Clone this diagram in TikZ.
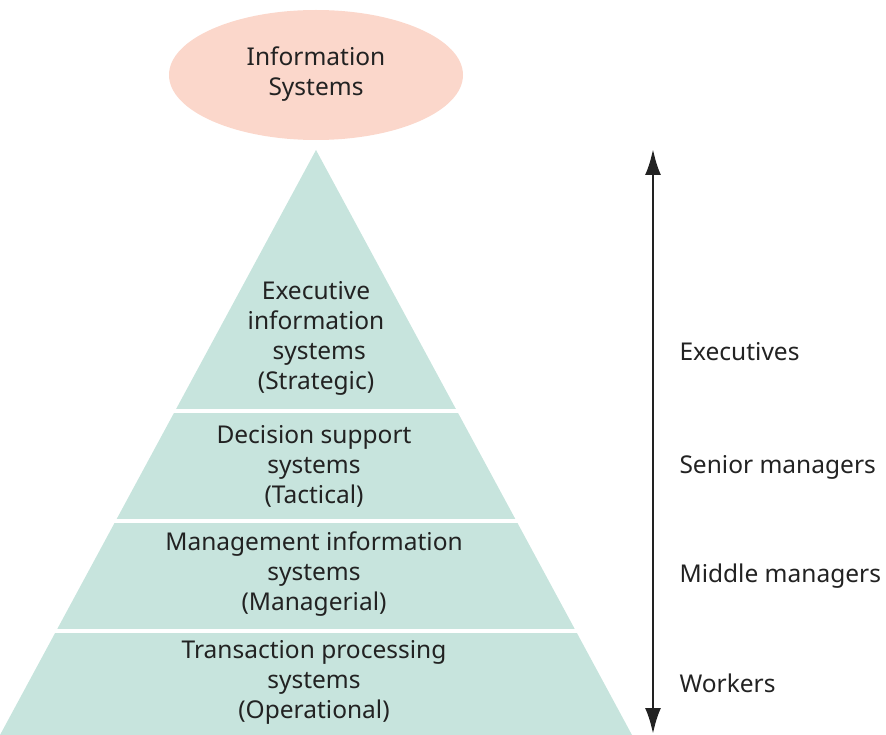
\documentclass[tikz,border=0pt]{standalone}
\usepackage{fontspec}
\setmainfont{Noto Sans}
\usetikzlibrary{shapes.geometric,arrows.meta}
\definecolor{pyr}{HTML}{C7E4DD}
\definecolor{ell}{HTML}{FBD7CB}
\definecolor{ink}{HTML}{222222}
\begin{document}
\begin{tikzpicture}[x=1pt,y=-1pt,
  lbl/.style={font=\fontsize{24.5}{30}\selectfont,text=ink,align=center},
  side/.style={font=\fontsize{24.5}{28}\selectfont,text=ink,anchor=west}]
\useasboundingbox (0,0) rectangle (886,735);
\node[ellipse,fill=ell,minimum width=294,minimum height=130,inner sep=0] (ell) at (316,75) {};
\node[lbl] (title) at (316,74) {\bfseries Information\\\bfseries Systems};
\fill[pyr] (316,150) -- (632,735) -- (0,735) -- cycle;
\foreach \y in {411,521,631}{\draw[white,line width=4] ({316-0.5402*(\y-150)-2},\y) -- ({316+0.5402*(\y-150)+2},\y);}
\node[lbl] (t1) at (316,338) {Executive\\information\\\ systems\\(Strategic)};
\node[lbl] (t2) at (314,466) {Decision support\\systems\\(Tactical)};
\node[lbl] (t3) at (314,574) {Management information\\systems\\(Managerial)};
\node[lbl] (t4) at (314,682) {Transaction processing\\systems\\(Operational)};
\coordinate (atop) at (653,149);
\coordinate (abot) at (653,734);
\draw[ink,line width=2.8,{Latex[length=26,width=16]}-{Latex[length=26,width=16]}] (atop) -- (abot);
\node[side] (s1) at (676,352) {Executives};
\node[side] (s2) at (676,467) {Senior managers};
\node[side] (s3) at (676,576) {Middle managers};
\node[side] (s4) at (676,683) {Workers};
\end{tikzpicture}
\end{document}
